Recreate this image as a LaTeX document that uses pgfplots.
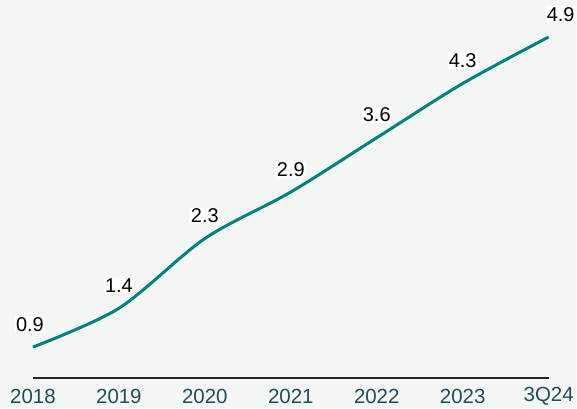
\documentclass[border=0pt]{standalone}
\usepackage{pgfplots}
\pgfplotsset{compat=1.18}
\usepackage{pgfplotstable}
\usepackage{fontspec}
\setmainfont{Liberation Sans}
\definecolor{bg}{HTML}{F4F6F6}
\definecolor{teal1}{HTML}{00807F}
\definecolor{ticklab}{HTML}{1F4E5A}
\pgfplotstableread{
x y sx lab
0 0.9 -3 0.9
1 1.4 0 1.4
2 2.3 0 2.3
3 2.9 0 2.9
4 3.6 0 3.6
5 4.3 0 4.3
6 4.9 12 4.9
}\datatable
\begin{document}
\begin{tikzpicture}
\fill[bg] (-33pt,-30pt) rectangle (544pt,379pt);
\begin{axis}[
  at={(0,0)}, anchor=south west,
  scale only axis, width=517pt, height=357.5pt,
  xmin=0, xmax=6, ymin=0.5, ymax=5.1,
  axis x line=bottom, axis y line=none,
  x axis line style={-, black!85, line width=1.2pt},
  xtick={0,1,2,3,4,5,6},
  xticklabels={2018,2019,2020,2021,2022,2023,3Q24},
  major tick length=0pt,
  xticklabel style={font=\fontsize{20.5}{24}\selectfont, text=ticklab, anchor=center, yshift=-18pt},
  clip=false,
]
\addplot[teal1, line width=3pt, smooth, tension=0.5,
  nodes near coords,
  point meta=explicit symbolic,
  visualization depends on={\thisrow{sx}\as\sx},
  every node near coord/.append style={fill=white, inner sep=1.2pt, text=black,
     font=\fontsize{20}{24}\selectfont, anchor=south, yshift=13pt, xshift=\sx pt},
] table[x=x, y=y, meta=lab] {\datatable};
\end{axis}
\end{tikzpicture}
\end{document}
